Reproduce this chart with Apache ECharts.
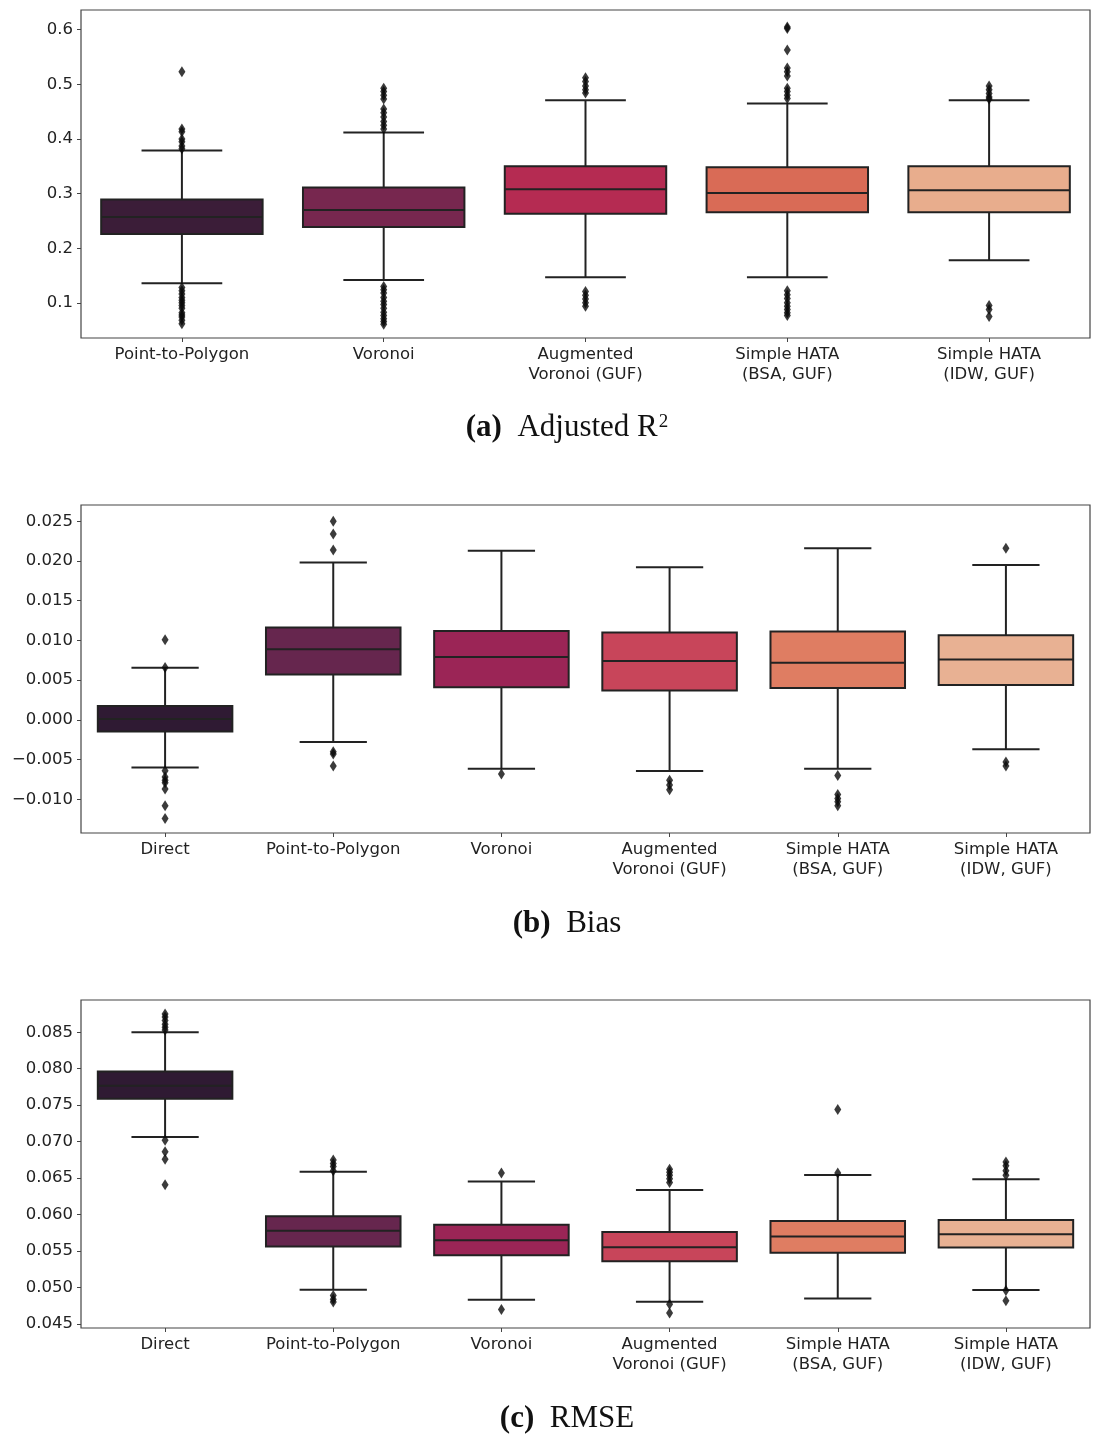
<!DOCTYPE html>
<html>
<head>
<meta charset="utf-8">
<script src="https://cdn.jsdelivr.net/npm/echarts@6/dist/echarts.min.js"></script>
<style>
html,body{margin:0;padding:0;background:#fff;}
#chart{width:1097px;height:1437px;}
</style>
</head>
<body>
<div id="chart"></div>
<script>
// ---------- DATA ----------
// Panel (a) Adjusted R^2
const catsA = ['Point-to-Polygon', 'Voronoi', 'Augmented\nVoronoi (GUF)', 'Simple HATA\n(BSA, GUF)', 'Simple HATA\n(IDW, GUF)'];
// [lower whisker, Q1, median, Q3, upper whisker]
const statsA = [
  [0.136, 0.226, 0.257, 0.289, 0.379],
  [0.142, 0.239, 0.270, 0.311, 0.412],
  [0.147, 0.263, 0.308, 0.350, 0.471],
  [0.147, 0.266, 0.301, 0.348, 0.465],
  [0.178, 0.266, 0.306, 0.350, 0.471]
];
const outliersA = [
  [0.523, 0.418, 0.413, 0.400, 0.395, 0.387, 0.382, 0.128, 0.122, 0.116, 0.110, 0.105, 0.100, 0.095, 0.090, 0.082, 0.078, 0.074, 0.068, 0.062],
  [0.493, 0.487, 0.480, 0.473, 0.455, 0.448, 0.440, 0.432, 0.425, 0.418, 0.130, 0.124, 0.118, 0.110, 0.103, 0.097, 0.090, 0.083, 0.077, 0.071, 0.066, 0.061],
  [0.512, 0.505, 0.497, 0.490, 0.484, 0.121, 0.114, 0.107, 0.100, 0.094],
  [0.605, 0.602, 0.563, 0.530, 0.523, 0.515, 0.493, 0.487, 0.480, 0.474, 0.122, 0.115, 0.108, 0.100, 0.094, 0.088, 0.082, 0.077],
  [0.497, 0.490, 0.483, 0.477, 0.473, 0.095, 0.088, 0.075]
];
const ticksA = [0.1, 0.2, 0.3, 0.4, 0.5, 0.6];

// Panel (b) Bias
const catsBC = ['Direct', 'Point-to-Polygon', 'Voronoi', 'Augmented\nVoronoi (GUF)', 'Simple HATA\n(BSA, GUF)', 'Simple HATA\n(IDW, GUF)'];
const statsB = [
  [-0.0060, -0.00147, 0.0001, 0.00176, 0.00657],
  [-0.0028, 0.0057, 0.0089, 0.01164, 0.0198],
  [-0.00616, 0.0041, 0.0079, 0.01118, 0.0213],
  [-0.00645, 0.0037, 0.0074, 0.0110, 0.0192],
  [-0.00616, 0.0040, 0.0072, 0.01114, 0.0216],
  [-0.0037, 0.0044, 0.0076, 0.01064, 0.0195]
];
const outliersB = [
  [0.0101, 0.0066, -0.0064, -0.0072, -0.0076, -0.0079, -0.0087, -0.0108, -0.0124],
  [0.0250, 0.0234, 0.0214, -0.0040, -0.0043, -0.0058],
  [-0.0068],
  [-0.0076, -0.0082, -0.0088],
  [-0.0070, -0.0094, -0.0099, -0.0103, -0.0108],
  [0.0216, -0.0053, -0.0058]
];
const ticksB = [-0.010, -0.005, 0.000, 0.005, 0.010, 0.015, 0.020, 0.025];

// Panel (c) RMSE
const statsC = [
  [0.07065, 0.07589, 0.07767, 0.07962, 0.0850],
  [0.04969, 0.05562, 0.0578, 0.05976, 0.06587],
  [0.04833, 0.05443, 0.05648, 0.05862, 0.06454],
  [0.04805, 0.05361, 0.05552, 0.05762, 0.06336],
  [0.04851, 0.05475, 0.05698, 0.05912, 0.06541],
  [0.04965, 0.05548, 0.0573, 0.05926, 0.06486]
];
const outliersC = [
  [0.0875, 0.0871, 0.0866, 0.0861, 0.0857, 0.0853, 0.0702, 0.0686, 0.0676, 0.0641],
  [0.0675, 0.0670, 0.0666, 0.0660, 0.0489, 0.0484, 0.0480],
  [0.0657, 0.0470],
  [0.0662, 0.0658, 0.0654, 0.0649, 0.0644, 0.0477, 0.0465],
  [0.0744, 0.0657],
  [0.0672, 0.0667, 0.0660, 0.0654, 0.0496, 0.0482]
];
const ticksC = [0.045, 0.050, 0.055, 0.060, 0.065, 0.070, 0.075, 0.080, 0.085];

// ---------- STYLE ----------
const colorsA = ['#3b1d38', '#77274f', '#b52b52', '#d96b56', '#e8ad8d'];
const colorsBC = ['#2f1a33', '#66264e', '#9b2556', '#c8455a', '#df7d62', '#e8b193'];
const EDGE = '#222';
const TXT = '#222';
const FONT = 'DejaVu Sans';

const panels = [
  { cats: catsA, stats: statsA, outs: outliersA, ticks: ticksA, colors: colorsA, min: 0.0357, max: 0.636, top: 10,
    fmt: v => v.toFixed(1) },
  { cats: catsBC, stats: statsB, outs: outliersB, ticks: ticksB, colors: colorsBC, min: -0.01424, max: 0.02705, top: 505,
    fmt: v => (v < -1e-9 ? '\u2212' : '') + Math.abs(v).toFixed(3) },
  { cats: catsBC, stats: statsC, outs: outliersC, ticks: ticksC, colors: colorsBC, min: 0.04445, max: 0.08942, top: 1000,
    fmt: v => v.toFixed(3) }
];

function makeRender(colors) {
  return function (params, api) {
    const i = api.value(0);
    const lo = api.coord([i, api.value(1)]);
    const q1 = api.coord([i, api.value(2)]);
    const md = api.coord([i, api.value(3)]);
    const q3 = api.coord([i, api.value(4)]);
    const hi = api.coord([i, api.value(5)]);
    const band = api.size([1, 0])[0];
    const w = band * 0.8, cw = w * 0.5;
    const cx = lo[0];
    const ls = { stroke: EDGE, lineWidth: 2 };
    return {
      type: 'group',
      children: [
        { type: 'line', shape: { x1: cx, y1: hi[1], x2: cx, y2: q3[1] }, style: ls },
        { type: 'line', shape: { x1: cx, y1: q1[1], x2: cx, y2: lo[1] }, style: ls },
        { type: 'line', shape: { x1: cx - cw / 2, y1: hi[1], x2: cx + cw / 2, y2: hi[1] }, style: ls },
        { type: 'line', shape: { x1: cx - cw / 2, y1: lo[1], x2: cx + cw / 2, y2: lo[1] }, style: ls },
        { type: 'rect', shape: { x: cx - w / 2, y: q3[1], width: w, height: q1[1] - q3[1] },
          style: { fill: colors[i], stroke: EDGE, lineWidth: 2 } },
        { type: 'line', shape: { x1: cx - w / 2, y1: md[1], x2: cx + w / 2, y2: md[1] }, style: ls }
      ]
    };
  };
}

const grid = [], xAxis = [], yAxis = [], series = [];
panels.forEach((p, k) => {
  grid.push({ left: 81, right: 7, top: p.top, height: 328, show: true, borderColor: '#444', borderWidth: 1.2,
    containLabel: false, outerBoundsMode: 'none' });
  xAxis.push({
    type: 'category', gridIndex: k, data: p.cats, boundaryGap: true,
    axisLine: { show: false, onZero: false },
    axisTick: { show: true, alignWithLabel: true, length: 4, lineStyle: { color: '#444', width: 1 } },
    axisLabel: { color: TXT, fontFamily: FONT, fontSize: 16.5, lineHeight: 20, margin: 7, interval: 0 },
    splitLine: { show: false }
  });
  yAxis.push({
    type: 'value', gridIndex: k, min: p.min, max: p.max,
    axisLine: { show: false, onZero: false },
    axisTick: { show: true, length: 4, lineStyle: { color: '#444', width: 1 }, customValues: p.ticks },
    axisLabel: { color: TXT, fontFamily: FONT, fontSize: 16.5, margin: 8, customValues: p.ticks, formatter: p.fmt },
    splitLine: { show: false }
  });
  series.push({
    type: 'custom', xAxisIndex: k, yAxisIndex: k,
    renderItem: makeRender(p.colors),
    encode: { x: 0, y: [1, 2, 3, 4, 5] },
    data: p.stats.map((s, i) => [i].concat(s)),
    silent: true, z: 2
  });
  const pts = [];
  p.outs.forEach((arr, i) => arr.forEach(v => pts.push([i, v])));
  series.push({
    type: 'scatter', xAxisIndex: k, yAxisIndex: k,
    symbol: 'diamond', symbolSize: [7, 11],
    itemStyle: { color: '#0a0a0a' },
    data: pts, silent: true, z: 3
  });
});

const titleRich = {
  b: { fontWeight: 'bold', fontFamily: 'Liberation Serif', fontSize: 31, fill: '#111' },
  n: { fontFamily: 'Liberation Serif', fontSize: 31, fill: '#111' },
  s: { fontFamily: 'Liberation Serif', fontSize: 19, fill: '#111', verticalAlign: 'top', padding: [0, 0, 12, 1] }
};
function cap(text, y) {
  return { type: 'text', x: 567, y: y, style: { text: text, rich: titleRich, align: 'center', verticalAlign: 'middle',
    fontFamily: 'Liberation Serif', fontSize: 31, fill: '#111' } };
}

const chart = echarts.init(document.getElementById('chart'), null, { renderer: 'canvas' });
chart.setOption({
  animation: false,
  backgroundColor: '#fff',
  grid: grid, xAxis: xAxis, yAxis: yAxis, series: series,
  graphic: [
    cap('{b|(a)}{n|  Adjusted R}{s|2}', 428),
    cap('{b|(b)}{n|  Bias}', 924),
    cap('{b|(c)}{n|  RMSE}', 1419)
  ]
});
</script>
</body>
</html>
